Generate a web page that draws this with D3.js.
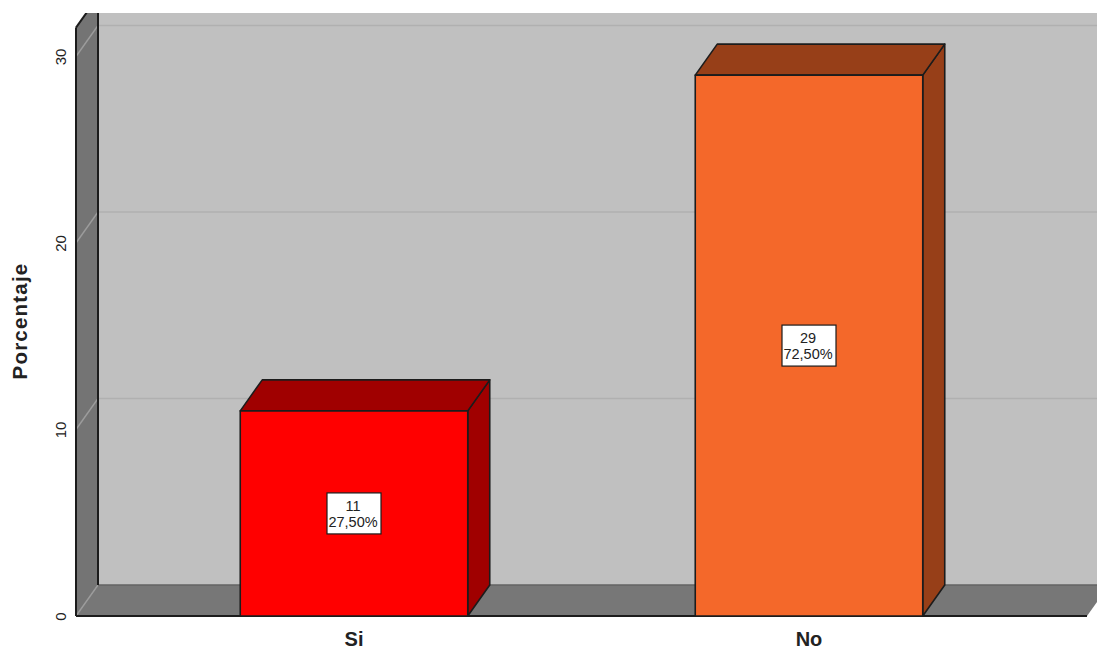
<!DOCTYPE html>
<html>
<head>
<meta charset="utf-8">
<script src="https://d3js.org/d3.v7.min.js"></script>
<style>
  html, body { margin: 0; padding: 0; background: #fff; }
  svg { display: block; }
  text { font-family: "Liberation Sans", Arial, sans-serif; fill: #222; }
</style>
</head>
<body>
<div id="chart-area"></div>
<script>
const categories = ["Si", "No"];
const counts = [11, 29];
const percents = ["27,50%", "72,50%"];
const yTicks = [0, 10, 20, 30];
const faceColors = ["#ff0000", "#f4682a"];
const sideColors = ["#a00000", "#973f18"];

let w = 1097;
let h = 650;
let depthX = 22;
let depthY = 31;
let outline = "#1c1c1c";

let yScale = d3.scaleLinear().domain([0, 30]).range([616, 56.5]);
let xScale = d3.scaleBand()
  .domain(categories)
  .range([126.5, 1036.5])
  .paddingInner(0.5)
  .paddingOuter(0.25);

let svg = d3.select("#chart-area").append("svg")
  .attr("width", w)
  .attr("height", h);

svg.append("clipPath").attr("id", "plot-clip")
  .append("rect")
  .attr("x", 0).attr("y", 13).attr("width", w).attr("height", h - 13);

let plot = svg.append("g").attr("clip-path", "url(#plot-clip)");

let wallX = 76;
let floorRight = 1087;
let y0 = yScale(0);
let yTop = yScale(31.55);

let poly = (pts, fill, stroke, width) => plot.append("polygon")
  .attr("points", pts.map((p) => p.join(",")).join(" "))
  .attr("fill", fill)
  .attr("stroke", stroke || "none")
  .attr("stroke-width", width || 0)
  .attr("stroke-linejoin", "round");

let seg = (x1, y1, x2, y2, stroke, width) => plot.append("line")
  .attr("x1", x1).attr("y1", y1).attr("x2", x2).attr("y2", y2)
  .attr("stroke", stroke).attr("stroke-width", width);

// back wall, left wall, floor
plot.append("rect")
  .attr("x", wallX + depthX).attr("y", 0)
  .attr("width", w).attr("height", y0 - depthY)
  .attr("fill", "#c0c0c0");

poly([[wallX, y0], [wallX + depthX, y0 - depthY], [wallX + depthX, yTop - depthY], [wallX, yTop]], "#747474");
poly([[wallX, y0], [floorRight, y0], [floorRight + depthX, y0 - depthY], [wallX + depthX, y0 - depthY]], "#777777");

// gridlines
yTicks.forEach((t) => {
  let y = yScale(t);
  seg(wallX, y, wallX + depthX, y - depthY, "#9c9c9c", 1.4);
  if (t > 0) seg(wallX + depthX, y - depthY, w, y - depthY, "#b0b0b0", 1.6);
});

// frame
seg(wallX + depthX, y0 - depthY, w, y0 - depthY, "#636363", 1.6);
seg(wallX + depthX, 0, wallX + depthX, y0 - depthY, outline, 2);
seg(wallX, yTop, wallX, y0, outline, 2);
seg(wallX, yTop, wallX + depthX, yTop - depthY, outline, 2);
seg(wallX, y0, floorRight, y0, outline, 2);

// bars
categories.forEach((c, i) => {
  let x0 = xScale(c);
  let x1 = x0 + xScale.bandwidth();
  let yv = yScale(counts[i]);

  poly([[x1, y0], [x1 + depthX, y0 - depthY], [x1 + depthX, yv - depthY], [x1, yv]], sideColors[i], outline, 1.6);
  poly([[x0, yv], [x1, yv], [x1 + depthX, yv - depthY], [x0 + depthX, yv - depthY]], sideColors[i], outline, 1.6);
  poly([[x0, y0], [x1, y0], [x1, yv], [x0, yv]], faceColors[i], outline, 1.6);

  let cx = (x0 + x1) / 2;
  let cy = (y0 + yv) / 2;
  plot.append("rect")
    .attr("x", cx - 27).attr("y", cy - 20.5)
    .attr("width", 54).attr("height", 41)
    .attr("fill", "#fff")
    .attr("stroke", outline)
    .attr("stroke-width", 1.2);
  plot.append("text")
    .attr("x", cx - 1).attr("y", cy - 2.5)
    .attr("text-anchor", "middle")
    .attr("font-size", 14.5)
    .text(counts[i]);
  plot.append("text")
    .attr("x", cx - 1).attr("y", cy + 13.5)
    .attr("text-anchor", "middle")
    .attr("font-size", 14.5)
    .text(percents[i]);
});

// axes
let yAxis = d3.axisLeft(yScale).tickValues(yTicks).tickSize(0).tickPadding(0);
let yG = svg.append("g").attr("transform", "translate(" + wallX + ",0)").call(yAxis);
yG.select(".domain").remove();
yG.selectAll("text")
  .attr("transform", "translate(-10,0) rotate(-90)")
  .attr("x", 0).attr("y", 0).attr("dy", 0)
  .attr("text-anchor", "middle")
  .attr("font-family", "Liberation Sans")
  .attr("font-size", 15)
  .attr("fill", "#222");

let xAxis = d3.axisBottom(xScale).tickSize(0).tickPadding(0);
let xG = svg.append("g").attr("transform", "translate(0," + y0 + ")").call(xAxis);
xG.select(".domain").remove();
xG.selectAll("text")
  .attr("y", 30).attr("dy", 0)
  .attr("font-family", "Liberation Sans")
  .attr("font-size", 20)
  .attr("font-weight", "bold")
  .attr("fill", "#222");

svg.append("text")
  .attr("transform", "translate(27,321) rotate(-90)")
  .attr("text-anchor", "middle")
  .attr("font-size", 20.5)
  .attr("letter-spacing", 1.2)
  .attr("font-weight", "bold")
  .text("Porcentaje");
</script>
</body>
</html>
